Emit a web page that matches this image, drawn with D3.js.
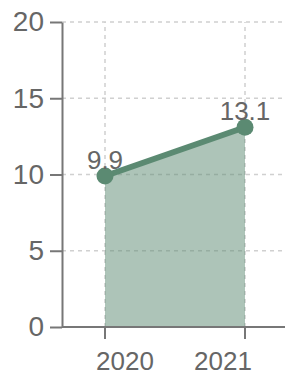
<!DOCTYPE html>
<html>
<head>
<meta charset="utf-8">
<script src="https://cdn.jsdelivr.net/npm/d3@7"></script>
<style>
  body { margin: 0; background: #fff; }
  svg text { font-family: "Liberation Sans", Arial, sans-serif; fill: #666; }
</style>
</head>
<body>
<div class="chart"></div>
<script>
const years = [2020, 2021];
const values = [9.9, 13.1];
const yTicks = [0, 5, 10, 15, 20];

const width = 285,
    height = 375;
const margin = {top: 22, right: 0, bottom: 48, left: 62};
const lineColor = "#5b8a72";

const svg = d3.select(".chart").append("svg")
    .attr("width", width)
    .attr("height", height);

const x = d3.scaleLinear()
    .domain([2020, 2021])
    .range([105, 245]);
// labels sit a bit inward from the ticks
const xLabel = d3.scalePoint()
    .domain(years)
    .range([125, 223]);
const y = d3.scaleLinear()
    .domain([0, 20])
    .range([height - margin.bottom, margin.top]);

const data = years.map((d, i) => ({year: d, value: values[i]}));

// grid
svg.append("g")
    .selectAll("line")
    .data(yTicks)
    .join("line")
    .attr("x1", margin.left)
    .attr("x2", width)
    .attr("y1", d => y(d))
    .attr("y2", d => y(d))
    .style("stroke", "#d0d0d0")
    .style("stroke-width", 1.5)
    .style("stroke-dasharray", "4,4");
svg.append("g")
    .selectAll("line")
    .data(years)
    .join("line")
    .attr("x1", d => x(d))
    .attr("x2", d => x(d))
    .attr("y1", y(0))
    .attr("y2", y(20))
    .style("stroke", "#d0d0d0")
    .style("stroke-width", 1.5)
    .style("stroke-dasharray", "4,4");

// area + line
const area = d3.area()
    .x(d => x(d.year))
    .y0(y(0))
    .y1(d => y(d.value));
svg.append("path")
    .datum(data)
    .attr("d", area)
    .style("fill", lineColor)
    .style("opacity", 0.5);

const line = d3.line()
    .x(d => x(d.year))
    .y(d => y(d.value));
svg.append("path")
    .datum(data)
    .attr("d", line)
    .style("fill", "none")
    .style("stroke", lineColor)
    .style("stroke-width", 6);

svg.append("g")
    .selectAll("circle")
    .data(data)
    .join("circle")
    .attr("cx", d => x(d.year))
    .attr("cy", d => y(d.value))
    .attr("r", 8.5)
    .style("fill", lineColor);

svg.append("g")
    .selectAll("text")
    .data(data)
    .join("text")
    .attr("x", d => x(d.year))
    .attr("y", d => y(d.value) - 7)
    .attr("text-anchor", "middle")
    .style("font-size", "26px")
    .text(d => d.value);

// y axis
const yAxis = svg.append("g")
    .attr("transform", `translate(${margin.left},0)`)
    .call(d3.axisLeft(y).tickValues(yTicks).tickSize(12).tickPadding(6).tickSizeOuter(0));
// x axis: line + ticks at data, labels from label scale
const xAxis = svg.append("g")
    .attr("transform", `translate(0,${y(0)})`);
xAxis.append("line")
    .attr("x1", margin.left)
    .attr("x2", width)
    .attr("class", "domainline");
xAxis.selectAll(".tk")
    .data(years)
    .join("line")
    .attr("class", "tk")
    .attr("x1", d => x(d))
    .attr("x2", d => x(d))
    .attr("y1", 0)
    .attr("y2", 12);
xAxis.selectAll("text")
    .data(years)
    .join("text")
    .attr("x", d => xLabel(d))
    .attr("y", 43)
    .attr("text-anchor", "middle")
    .style("font-size", "26px")
    .text(d => d);

svg.selectAll(".domain, .tick line, .domainline, .tk")
    .style("stroke", "#777")
    .style("stroke-width", 2);
yAxis.selectAll("text")
    .style("font-size", "28px")
    .style("fill", "#666");
</script>
</body>
</html>
